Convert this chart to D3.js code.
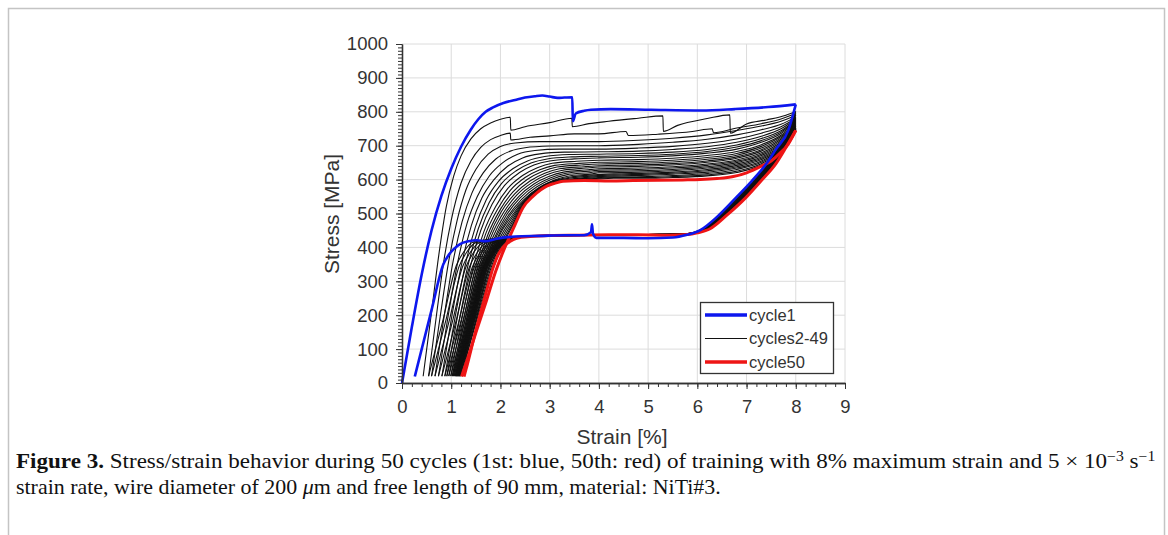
<!DOCTYPE html>
<html><head><meta charset="utf-8">
<script src="https://cdn.jsdelivr.net/npm/d3@7"></script>
<style>
html,body{margin:0;padding:0;background:#fff;}
svg{display:block;}
</style></head>
<body>
<svg id="chart" width="1168" height="535"></svg>
<script>
// ---------------- DATA ----------------
const xTicks = [0,1,2,3,4,5,6,7,8,9];
const yTicks = [0,100,200,300,400,500,600,700,800,900,1000];
const xLabel = "Strain [%]";
const yLabel = "Stress [MPa]";
const legendLabels = ["cycle1","cycles2-49","cycle50"];

// cycle 1 (blue)
const cycle1Load = [[0,0],[0.2,165],[0.4,320],[0.6,450],[0.8,552],[1.0,632],[1.2,697],[1.4,748],[1.55,778],[1.7,800],[1.85,813],[2.06,826],[2.3,835],[2.5,842],[2.7,846],[2.85,848],[3.0,845],[3.16,841],[3.3,842],[3.46,843],[3.47,772],[3.53,795],[3.7,803],[3.84,806],[4.24,808],[5.06,806],[6.08,804],[6.76,808],[7.44,814],[8.0,822]];
const cycle1Unload = [[8,822],[7.85,746],[7.6,690],[7.41,648],[7.1,595],[6.8,549],[6.4,490],[6.06,451],[5.79,437],[5.5,429],[5.0,427],[4.5,428],[3.95,428],[3.88,440],[3.86,468],[3.84,445],[3.7,436],[3.3,436],[2.8,434],[2.3,432],[1.9,425],[1.69,418],[1.52,421],[1.35,418],[1.18,410],[1.05,395],[0.95,378],[0.84,350],[0.6,215],[0.26,19]];

// cycle 50 (red)
const cycle50Load = [[1.21,19],[1.35,80],[1.5,148],[1.72,245],[1.9,328],[2.09,400],[2.27,458],[2.46,518],[2.67,552],[2.82,570],[2.94,581],[3.1,589],[3.27,595],[3.7,597],[4.23,596],[4.7,597],[5.2,598],[5.7,599],[6.06,600],[6.4,603],[6.73,609],[7.0,620],[7.28,638],[7.5,655],[7.68,678],[7.85,705],[8.0,745]];
const cycle50Unload = [[8.0,745],[7.8,695],[7.6,648],[7.3,597],[7.0,549],[6.6,495],[6.26,455],[6.0,443],[5.8,438],[5.4,436],[4.8,437],[4.2,437],[3.6,436],[3.0,435],[2.6,432],[2.33,427],[2.2,418],[2.06,402],[1.95,377],[1.86,344],[1.7,262],[1.5,155],[1.3,40],[1.26,19]];

// cycles 2-49 (black), representative cycles
const blackCycles = [2,3,4,5,6,7,8,9,10,12,14,16,18,20,23,26,29,32,35,38,41,44,47,49];
const blackLoad = [
 [[0.43,20],[0.6,210],[0.75,380],[0.9,520],[1.05,610],[1.2,670],[1.4,720],[1.6,750],[1.8,767],[2.0,778],[2.2,784],[2.21,746],[2.5,756],[3.0,768],[3.45,781],[3.46,756],[3.8,765],[4.2,772],[4.8,781],[5.3,788],[5.31,742],[5.6,760],[6.2,780],[6.66,791],[6.67,737],[7.0,764],[7.4,776],[7.8,790],[8.0,801]],
 [[0.54,20],[0.7,200],[0.85,360],[1.0,480],[1.2,590],[1.4,655],[1.6,695],[1.8,718],[2.0,730],[2.2,737],[2.21,717],[2.6,725],[3.0,729],[3.5,735],[4.0,735],[4.55,742],[4.6,730],[5.2,734],[5.9,742],[6.3,750],[6.33,738],[6.8,752],[7.3,765],[7.7,779],[8,795]],
 [[0.60,20],[0.78,200],[0.95,360],[1.12,480],[1.3,570],[1.5,630],[1.75,675],[2.0,698],[2.3,708],[2.8,712],[3.4,712],[4,712],[4.8,716],[5.5,722],[6.2,732],[6.8,745],[7.3,758],[7.7,772],[8,790]],
 [[0.67,20],[0.86,200],[1.04,360],[1.22,475],[1.42,560],[1.65,620],[1.9,660],[2.2,684],[2.5,694],[3,699],[3.5,700],[4,700],[4.8,704],[5.5,710],[6.2,719],[6.8,732],[7.3,747],[7.7,763],[8,785]],
 [[0.74,20],[0.94,200],[1.13,355],[1.32,470],[1.53,550],[1.77,610],[2.05,650],[2.35,675],[2.7,686],[3.2,690],[4,690],[4.8,693],[5.5,698],[6.2,707],[6.8,720],[7.3,737],[7.7,756],[8,781]],
 [[0.81,20],[1.01,195],[1.21,350],[1.41,465],[1.62,545],[1.87,600],[2.15,640],[2.45,664],[2.8,676],[3.3,681],[4,682],[4.8,684],[5.5,689],[6.2,697],[6.8,710],[7.3,728],[7.7,750],[8,778]],
 [[0.87,20],[1.08,195],[1.28,345],[1.49,460],[1.71,540],[1.96,595],[2.25,632],[2.55,655],[2.9,668],[3.4,674],[4,675],[4.8,677],[5.5,681],[6.2,689],[6.8,702],[7.3,721],[7.7,744],[8,775]],
 [[0.91,20],[1.12,190],[1.33,340],[1.55,455],[1.77,532],[2.02,588],[2.32,626],[2.62,649],[2.95,661],[3.45,667],[4,669],[4.8,671],[5.5,675],[6.2,683],[6.8,696],[7.3,715],[7.7,740],[8,772]],
 [[0.95,20],[1.17,190],[1.38,338],[1.6,450],[1.83,527],[2.08,582],[2.38,620],[2.68,643],[3.0,655],[3.5,661],[4,664],[4.8,666],[5.5,670],[6.2,678],[6.8,690],[7.3,710],[7.7,736],[8,769]],
 [[0.99,20],[1.21,185],[1.43,332],[1.66,445],[1.9,520],[2.15,574],[2.45,612],[2.75,635],[3.05,648],[3.55,654],[4,657],[4.8,659],[5.5,663],[6.2,671],[6.8,683],[7.3,703],[7.7,731],[8,766]],
 [[1.02,20],[1.25,185],[1.47,328],[1.7,440],[1.95,515],[2.2,568],[2.5,606],[2.8,629],[3.1,642],[3.6,648],[4,651],[4.8,653],[5.5,657],[6.2,665],[6.8,677],[7.3,698],[7.7,727],[8,763]],
 [[1.04,20],[1.27,182],[1.5,325],[1.74,436],[1.99,510],[2.25,563],[2.55,601],[2.85,624],[3.15,637],[3.65,643],[4,646],[4.8,648],[5.5,652],[6.2,660],[6.8,672],[7.3,693],[7.7,723],[8,761]],
 [[1.06,20],[1.3,182],[1.53,322],[1.77,432],[2.02,506],[2.29,558],[2.6,596],[2.9,619],[3.2,632],[3.7,638],[4,641],[4.8,643],[5.5,647],[6.2,655],[6.8,667],[7.3,688],[7.7,719],[8,759]],
 [[1.08,20],[1.32,180],[1.56,320],[1.8,428],[2.06,502],[2.33,554],[2.64,591],[2.94,614],[3.24,627],[3.74,634],[4,637],[4.8,639],[5.5,643],[6.2,651],[6.8,663],[7.3,684],[7.7,715],[8,757]],
 [[1.09,20],[1.34,180],[1.58,318],[1.83,425],[2.09,498],[2.37,550],[2.68,587],[2.98,609],[3.28,622],[3.78,629],[4,632],[4.8,634],[5.5,638],[6.2,646],[6.8,658],[7.3,679],[7.7,711],[8,755]],
 [[1.1,20],[1.35,178],[1.6,316],[1.86,422],[2.12,495],[2.4,546],[2.71,583],[3.01,605],[3.31,618],[3.81,625],[4,628],[4.8,630],[5.5,634],[6.2,642],[6.8,654],[7.3,675],[7.7,707],[8,753]],
 [[1.11,20],[1.37,178],[1.62,314],[1.88,420],[2.15,492],[2.43,542],[2.74,579],[3.04,601],[3.34,614],[3.84,621],[4,624],[4.8,626],[5.5,630],[6.2,638],[6.8,650],[7.3,671],[7.7,704],[8,752]],
 [[1.12,20],[1.38,176],[1.64,312],[1.9,417],[2.17,489],[2.46,539],[2.77,575],[3.07,597],[3.37,610],[3.87,617],[4,620],[4.8,622],[5.5,626],[6.2,634],[6.8,646],[7.3,667],[7.7,700],[8,751]],
 [[1.13,20],[1.39,172],[1.7,325],[1.97,432],[2.24,495],[2.5,541],[2.8,577],[3.1,597],[3.4,607],[3.9,614],[4.3,617],[5,619],[5.5,622],[6.2,630],[6.8,642],[7.3,663],[7.7,697],[8,750]],
 [[1.14,20],[1.4,166],[1.7,314],[1.97,422],[2.24,488],[2.5,538],[2.8,575],[3.1,595],[3.4,604],[3.9,611],[4.3,614],[5,616],[5.5,619],[6.2,626],[6.8,638],[7.3,659],[7.7,694],[8,749]],
 [[1.15,20],[1.41,160],[1.7,303],[1.97,411],[2.24,481],[2.5,536],[2.8,574],[3.1,594],[3.4,601],[3.9,608],[4.3,611],[5,613],[5.5,616],[6.2,622],[6.8,634],[7.3,655],[7.7,691],[8,748]],
 [[1.16,20],[1.42,155],[1.7,293],[1.97,401],[2.24,474],[2.5,534],[2.8,573],[3.1,593],[3.4,599],[3.9,605],[4.3,608],[5,609],[5.5,612],[6.2,618],[6.8,630],[7.3,651],[7.7,688],[8,747]],
 [[1.17,20],[1.43,150],[1.7,283],[1.97,391],[2.24,467],[2.5,532],[2.8,572],[3.1,592],[3.4,598],[3.9,603],[4.3,606],[5,606],[5.5,609],[6.2,614],[6.8,625],[7.3,647],[7.7,684],[8,746]],
 [[1.18,20],[1.44,146],[1.7,273],[1.97,382],[2.24,462],[2.5,530],[2.8,571],[3.1,591],[3.4,597],[3.9,601],[4.3,604],[5,604],[5.5,606],[6.2,611],[6.8,621],[7.3,643],[7.7,681],[8,746]]
];
const blackUnload = [
 [[8,801],[7.7,705],[7.3,625],[6.9,560],[6.5,502],[6.1,454],[5.8,441],[5,438],[4,438],[3,436],[2.4,433],[1.44,415],[1.26,388],[1.1,345],[0.84,190],[0.54,20]],
 [[8,795],[7.7,703],[7.3,623],[6.9,558],[6.5,500],[6.1,454],[5.8,440],[5,437],[4,438],[3,436],[2.4,432],[1.5,414],[1.32,387],[1.16,344],[0.9,190],[0.6,20]],
 [[8,790],[7.7,701],[7.3,621],[6.9,557],[6.5,499],[6.1,453],[5.8,441],[5,437],[4,437],[3,435],[2.4,432],[1.57,414],[1.39,386],[1.23,343],[0.97,190],[0.67,20]],
 [[8,785],[7.7,699],[7.3,619],[6.9,555],[6.5,497],[6.1,453],[5.8,440],[5,438],[4,436],[3,435],[2.4,431],[1.64,413],[1.46,386],[1.3,343],[1.04,190],[0.74,20]],
 [[8,781],[7.7,697],[7.3,617],[6.9,553],[6.5,496],[6.1,452],[5.8,440],[5,437],[4,437],[3,436],[2.4,431],[1.71,414],[1.53,385],[1.37,342],[1.11,190],[0.81,20]],
 [[8,778],[7.7,695],[7.3,615],[6.9,551],[6.5,494],[6.1,452],[5.8,439],[5,437],[4,436],[3,435],[2.4,432],[1.77,413],[1.59,385],[1.43,342],[1.17,190],[0.87,20]],
 [[8,775],[7.7,693],[7.3,613],[6.9,550],[6.5,493],[6.1,452],[5.8,440],[5,438],[4,437],[3,434],[2.4,431],[1.81,413],[1.63,386],[1.47,342],[1.21,190],[0.91,20]],
 [[8,772],[7.7,691],[7.3,612],[6.9,549],[6.5,492],[6.1,451],[5.8,439],[5,436],[4,437],[3,435],[2.4,430],[1.85,412],[1.67,385],[1.51,342],[1.25,190],[0.95,20]],
 [[8,769],[7.7,689],[7.3,611],[6.9,548],[6.5,491],[6.1,451],[5.8,440],[5,437],[4,436],[3,434],[2.4,431],[1.89,413],[1.71,385],[1.55,342],[1.29,190],[0.99,20]],
 [[8,766],[7.7,687],[7.3,610],[6.9,547],[6.5,490],[6.1,451],[5.8,439],[5,437],[4,437],[3,435],[2.4,430],[1.92,412],[1.74,385],[1.58,342],[1.32,190],[1.02,20]],
 [[8,763],[7.7,685],[7.3,608],[6.9,546],[6.5,489],[6.1,450],[5.8,440],[5,438],[4,436],[3,434],[2.4,431],[1.94,413],[1.76,385],[1.6,342],[1.34,190],[1.04,20]],
 [[8,761],[7.7,684],[7.3,607],[6.9,545],[6.5,489],[6.1,450],[5.8,439],[5,436],[4,437],[3,435],[2.4,430],[1.96,412],[1.78,385],[1.62,342],[1.36,190],[1.06,20]],
 [[8,759],[7.7,683],[7.3,606],[6.9,544],[6.5,488],[6.1,450],[5.8,440],[5,437],[4,436],[3,434],[2.4,431],[1.98,413],[1.8,385],[1.64,342],[1.38,190],[1.08,20]],
 [[8,757],[7.7,681],[7.3,605],[6.9,543],[6.5,488],[6.1,450],[5.8,439],[5,437],[4,437],[3,435],[2.4,430],[1.99,412],[1.81,385],[1.65,342],[1.39,190],[1.09,20]],
 [[8,755],[7.7,680],[7.3,604],[6.9,542],[6.5,487],[6.1,449],[5.8,440],[5,438],[4,436],[3,434],[2.4,431],[2.0,413],[1.82,385],[1.66,342],[1.4,190],[1.1,20]],
 [[8,753],[7.7,679],[7.3,603],[6.9,541],[6.5,487],[6.1,449],[5.8,439],[5,436],[4,437],[3,435],[2.4,430],[2.01,412],[1.83,385],[1.67,342],[1.41,190],[1.11,20]],
 [[8,752],[7.7,678],[7.3,602],[6.9,540],[6.5,486],[6.1,449],[5.8,440],[5,437],[4,436],[3,434],[2.4,431],[2.02,413],[1.84,385],[1.68,342],[1.42,190],[1.12,20]],
 [[8,751],[7.7,677],[7.3,602],[6.9,540],[6.5,486],[6.1,449],[5.8,439],[5,437],[4,437],[3,435],[2.4,430],[2.03,412],[1.85,385],[1.69,342],[1.43,190],[1.13,20]],
 [[8,750],[7.7,676],[7.3,601],[6.9,539],[6.5,485],[6.1,449],[5.8,440],[5,438],[4,436],[3,434],[2.4,431],[2.04,413],[1.86,385],[1.7,342],[1.44,190],[1.14,20]],
 [[8,749],[7.7,676],[7.3,600],[6.9,539],[6.5,485],[6.1,448],[5.8,439],[5,437],[4,437],[3,435],[2.4,430],[2.05,412],[1.87,385],[1.71,342],[1.45,190],[1.15,20]],
 [[8,748],[7.7,675],[7.3,600],[6.9,538],[6.5,485],[6.1,448],[5.8,440],[5,436],[4,436],[3,434],[2.4,431],[2.06,413],[1.88,385],[1.72,342],[1.46,190],[1.16,20]],
 [[8,747],[7.7,675],[7.3,599],[6.9,538],[6.5,484],[6.1,448],[5.8,439],[5,437],[4,437],[3,435],[2.4,430],[2.07,412],[1.89,385],[1.73,342],[1.47,190],[1.17,20]],
 [[8,746],[7.7,674],[7.3,599],[6.9,537],[6.5,484],[6.1,448],[5.8,440],[5,438],[4,436],[3,434],[2.4,431],[2.08,413],[1.9,385],[1.74,342],[1.48,190],[1.18,20]],
 [[8,746],[7.7,674],[7.3,598],[6.9,537],[6.5,484],[6.1,448],[5.8,439],[5,437],[4,437],[3,435],[2.4,430],[2.11,412],[1.93,385],[1.77,342],[1.51,190],[1.21,20]]
];

// ---------------- DRAW ----------------
const COL = {blue:"#0d17ee", red:"#ee1515", black:"#111", text:"#333", grid:"#dcdcdc", axis:"#333"};
const svg = d3.select("#chart");
const x = d3.scaleLinear().domain([0,9]).range([402,845]);
const y = d3.scaleLinear().domain([0,1000]).range([383,44]);

// figure frame
svg.append("rect").attr("x",8.5).attr("y",8.5).attr("width",1156).attr("height",700)
  .attr("fill","none").attr("stroke","#c4c4c4").attr("stroke-width",1.5);

// grid
const grid = svg.append("g");
grid.selectAll("line.gx").data(xTicks.slice(1)).join("line").attr("class","gx")
  .attr("x1",d=>x(d)).attr("x2",d=>x(d)).attr("y1",y(0)).attr("y2",y(1000))
  .attr("stroke",COL.grid).attr("stroke-width",1);
grid.selectAll("line.gy").data(yTicks.slice(1)).join("line").attr("class","gy")
  .attr("y1",d=>y(d)).attr("y2",d=>y(d)).attr("x1",x(0)).attr("x2",x(9))
  .attr("stroke",COL.grid).attr("stroke-width",1);

// curves
const line = d3.line().x(d=>x(d[0])).y(d=>y(d[1])).curve(d3.curveMonotoneX);
const asc = a => (a[0][0] <= a[a.length-1][0]) ? a : a.slice().reverse();
const curves = svg.append("g").attr("fill","none").attr("stroke-linejoin","round");
blackCycles.forEach((c,i)=>{
  curves.append("path").attr("d",line(asc(blackLoad[i]))).attr("stroke",COL.black).attr("stroke-width",1.1);
  curves.append("path").attr("d",line(asc(blackUnload[i]))).attr("stroke",COL.black).attr("stroke-width",1.1);
});
[cycle50Load,cycle50Unload].forEach(a=>curves.append("path").attr("d",line(asc(a))).attr("stroke",COL.red).attr("stroke-width",3));
[cycle1Load,cycle1Unload].forEach(a=>curves.append("path").attr("d",line(asc(a))).attr("stroke",COL.blue).attr("stroke-width",2.6));

// axes
const axFont = "'Liberation Sans', Arial, sans-serif";
const xMinor = d3.range(0,9.0001,0.2).map(v=>+v.toFixed(2));
const yMinor = d3.range(0,1000.1,10);
const gxm = svg.append("g").attr("transform",`translate(0,${y(0)})`)
  .call(d3.axisBottom(x).tickValues(xMinor).tickSize(4).tickSizeOuter(0).tickFormat(""));
const gym = svg.append("g").attr("transform",`translate(${x(0)},0)`)
  .call(d3.axisLeft(y).tickValues(yMinor).tickSize(4).tickSizeOuter(0).tickFormat(""));
const gx = svg.append("g").attr("transform",`translate(0,${y(0)})`)
  .call(d3.axisBottom(x).tickValues(xTicks).tickSize(6).tickSizeOuter(0).tickPadding(11).tickFormat(d3.format("d")));
const gy = svg.append("g").attr("transform",`translate(${x(0)},0)`)
  .call(d3.axisLeft(y).tickValues(yTicks).tickSize(6).tickSizeOuter(0).tickPadding(8).tickFormat(d3.format("d")));
[gxm,gym,gx,gy].forEach(g=>{
  g.selectAll("path.domain").attr("stroke",COL.axis).attr("stroke-width",1.3);
  g.selectAll(".tick line").attr("stroke",COL.axis).attr("stroke-width",1);
  g.selectAll("text").attr("fill",COL.text).style("font-family",axFont).style("font-size","18.5px");
});

svg.append("text").attr("x",622).attr("y",444).attr("text-anchor","middle")
  .style("font-family",axFont).style("font-size","21px").attr("fill",COL.text).text(xLabel);
svg.append("text").attr("transform","translate(339,214) rotate(-90)").attr("text-anchor","middle")
  .style("font-family",axFont).style("font-size","21px").attr("fill",COL.text).text(yLabel);

// legend
const lg = svg.append("g");
lg.append("rect").attr("x",700.5).attr("y",302.5).attr("width",133).attr("height",71)
  .attr("fill","#fff").attr("stroke","#333").attr("stroke-width",1.3);
const legCols = [COL.blue, COL.black, COL.red];
const legW = [3.3, 1, 3.3];
legendLabels.forEach((t,i)=>{
  const yy = 315 + i*23.5;
  lg.append("line").attr("x1",705).attr("x2",747).attr("y1",yy).attr("y2",yy)
    .attr("stroke",legCols[i]).attr("stroke-width",legW[i]);
  lg.append("text").attr("x",749).attr("y",yy+5.5).style("font-family",axFont)
    .style("font-size","16.5px").attr("fill",COL.text).text(t);
});

// caption
const capFont = "'Liberation Serif', 'Times New Roman', serif";
function capLine(build){
  const g = svg.append("g");
  const t = g.append("text").attr("x",0).attr("y",0).style("font-family",capFont).style("font-size","20.5px").attr("fill","#111");
  build(t);
  return {g, w: t.node().getComputedTextLength()};
}
const l1 = capLine(t=>{
  t.append("tspan").style("font-weight","bold").text("Figure 3.");
  t.append("tspan").text(" Stress/strain behavior during 50 cycles (1st: blue, 50th: red) of training with 8% maximum strain and 5 \u00d7 10");
  t.append("tspan").attr("dy",-7).style("font-size","14px").text("\u22123");
  t.append("tspan").attr("dy",7).text(" s");
  t.append("tspan").attr("dy",-7).style("font-size","14px").text("\u22121");
});
const l2 = capLine(t=>{
  t.append("tspan").text("strain rate, wire diameter of 200 ");
  t.append("tspan").style("font-style","italic").text("\u03bc");
  t.append("tspan").text("m and free length of 90 mm, material: NiTi#3.");
});
l1.g.attr("transform",`translate(16,468) scale(${1140 / l1.w},1)`);
l2.g.attr("transform",`translate(16,494) scale(${705 / l2.w},1)`);
</script>
</body></html>
